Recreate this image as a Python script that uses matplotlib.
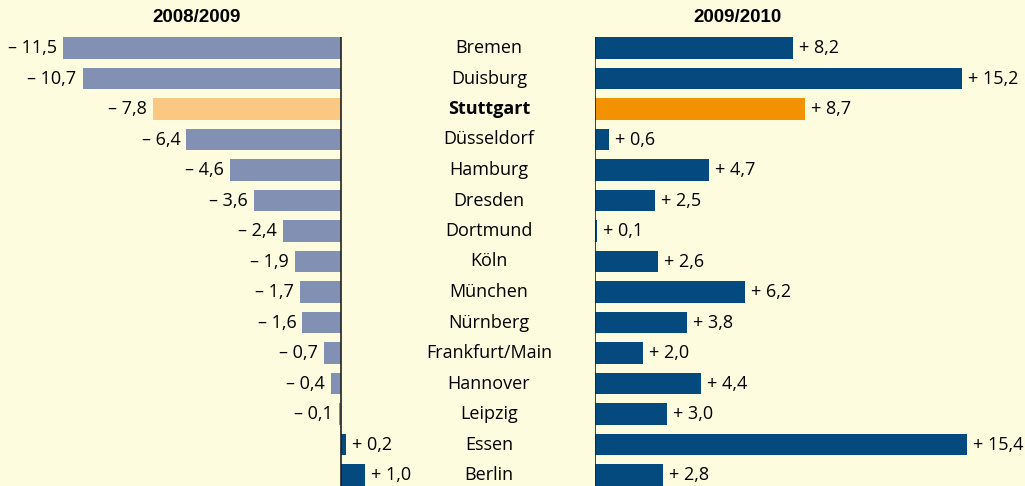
"""Change in numbers, 2008/2009 vs 2009/2010, by city."""

import matplotlib.pyplot as plt

cities = ["Bremen", "Duisburg", "Stuttgart", "Düsseldorf", "Hamburg", "Dresden",
          "Dortmund", "Köln", "München", "Nürnberg", "Frankfurt/Main", "Hannover",
          "Leipzig", "Essen", "Berlin"]
change_0809 = [-11.5, -10.7, -7.8, -6.4, -4.6, -3.6, -2.4, -1.9, -1.7, -1.6,
               -0.7, -0.4, -0.1, 0.2, 1.0]
change_0910 = [8.2, 15.2, 8.7, 0.6, 4.7, 2.5, 0.1, 2.6, 6.2, 3.8, 2.0, 4.4,
               3.0, 15.4, 2.8]
highlight = "Stuttgart"
titles = ["2008/2009", "2009/2010"]

BG = "#fefcdf"
LEFT_COL, LEFT_HI = "#8290b4", "#fac882"
RIGHT_COL, RIGHT_HI = "#044a7e", "#f39200"
FS = 13

plt.rcParams["font.family"] = ["Open Sans", "DejaVu Sans"]

W, H = 1025, 486
fig = plt.figure(figsize=(W / 100, H / 100), dpi=100, facecolor=BG)

px_per_unit = 24.15
row_top, row_step = 48, 30.5
ylim = ((H - row_top) / row_step, -row_top / row_step)

# left panel: zero line at x=341 px, right panel: zero line at x=595 px
ax_l = fig.add_axes([0, 0, 420 / W, 1])
ax_l.set_xlim(-341 / px_per_unit, 79 / px_per_unit)
ax_r = fig.add_axes([595 / W, 0, (W - 595) / W, 1])
ax_r.set_xlim(0, (W - 595) / px_per_unit)

ypos = list(range(len(cities)))


def fmt(v):
    s = f"{abs(v):.1f}".replace(".", ",")
    return ("– " if v < 0 else "+ ") + s


for ax, vals, col, hi in [(ax_l, change_0809, LEFT_COL, LEFT_HI),
                          (ax_r, change_0910, RIGHT_COL, RIGHT_HI)]:
    ax.set_ylim(*ylim)
    ax.axis("off")
    colors = []
    for c, v in zip(cities, vals):
        if c == highlight:
            colors.append(hi)
        elif v > 0:
            colors.append(RIGHT_COL)
        else:
            colors.append(col)
    ax.barh(ypos, vals, height=0.72, color=colors, zorder=2)
    ax.vlines(0, -0.36, ylim[0], color="#222222", linewidth=1.2, zorder=3)
    off = 6 / px_per_unit
    for y, v in zip(ypos, vals):
        if v < 0:
            ax.text(v - off, y, fmt(v), ha="right", va="center", fontsize=FS,
                    color="#000000", clip_on=False)
        else:
            ax.text(v + off, y, fmt(v), ha="left", va="center", fontsize=FS,
                    color="#000000", clip_on=False)

# city names in the middle
for y, c in zip(ypos, cities):
    fig.text(489 / W, 1 - (row_top + row_step * y) / H, c, ha="center", va="center",
             fontsize=FS, color="#000000",
             fontweight="bold" if c == highlight else "normal")

for x, t in zip([197, 737], titles):
    fig.text(x / W, 1 - 17 / H, t, ha="center", va="center", fontsize=13.5,
             fontweight="bold", color="#000000", family="Liberation Sans")

fig.savefig("out.png", dpi=100, facecolor=BG)
